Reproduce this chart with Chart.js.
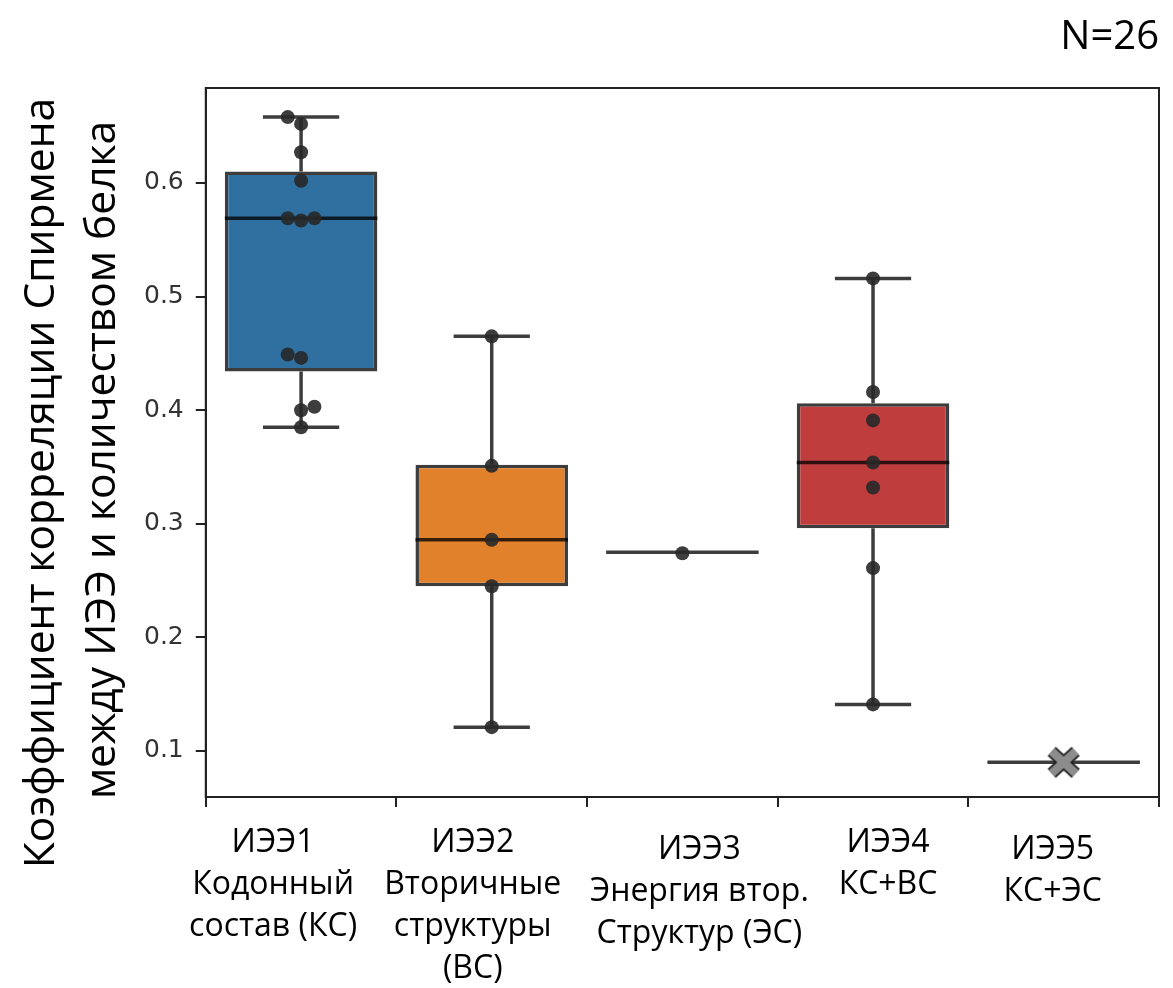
<!DOCTYPE html>
<html lang="ru">
<head>
    <meta charset="UTF-8">
    <title>Коэффициент корреляции Спирмена</title>
    <style>
        body {
            margin: 0;
            padding: 0;
            background-color: #ffffff;
        }

        .chart-container {
            width: 1173px;
            height: 988px;
        }
    </style>
</head>
<body>
    <div class="chart-container">
        <canvas id="boxChart"></canvas>
    </div>

    <script src="https://cdn.jsdelivr.net/npm/chart.js"></script>
    <script>
        // Categories (x axis labels, one line per array item)
        const categories = [
            ['ИЭЭ1', 'Кодонный', 'состав (КС)'],
            ['ИЭЭ2', 'Вторичные', 'структуры', '(ВС)'],
            ['ИЭЭ3', 'Энергия втор.', 'Структур (ЭС)'],
            ['ИЭЭ4', 'КС+ВС'],
            ['ИЭЭ5', 'КС+ЭС']
        ];

        // Box statistics
        const whiskerLow  = [0.385, 0.121, 0.275, 0.141, 0.090];
        const q1          = [0.434, 0.245, 0.275, 0.296, 0.090];
        const median      = [0.569, 0.286, 0.275, 0.354, 0.090];
        const q3          = [0.610, 0.352, 0.275, 0.406, 0.090];
        const whiskerHigh = [0.658, 0.465, 0.275, 0.516, 0.090];

        // Individual values (category index, value, small swarm shift in category units)
        const pointCat   = [0, 0, 0, 0, 0, 0, 0, 0, 0, 0, 0, 0,
                            1, 1, 1, 1, 1,
                            2,
                            3, 3, 3, 3, 3, 3, 3,
                            4];
        const pointValue = [0.658, 0.652, 0.627, 0.602, 0.569, 0.567, 0.569, 0.449, 0.446, 0.403, 0.400, 0.385,
                            0.465, 0.351, 0.286, 0.245, 0.121,
                            0.274,
                            0.516, 0.416, 0.391, 0.354, 0.332, 0.261, 0.141,
                            0.090];
        const pointShift = [-0.07, 0, 0, 0, -0.07, 0, 0.07, -0.07, 0, 0.07, 0, 0,
                            0, 0, 0, 0, 0,
                            0,
                            0, 0, 0, 0, 0, 0, 0,
                            0];

        const yTicks = [0.1, 0.2, 0.3, 0.4, 0.5, 0.6];
        const yTitle = ['Коэффициент корреляции Спирмена', 'между ИЭЭ и количеством белка'];

        const boxColors = ['#3070a1', '#e1812c', '#c03d3e', '#c03d3e', '#8c8c8c'];
        const lineColor = 'rgba(0, 0, 0, 0.76)';

        // the x labels in the original are nudged a bit off their ticks
        const labelShiftX = [-28, -19, 17, 15, -11];
        const labelShiftY = [0, 0, 7, 0, 7];

        // grey X marker used for the last category
        function makeCross() {
            const c = document.createElement('canvas');
            c.width = 40;
            c.height = 36;
            const g = c.getContext('2d');
            g.lineCap = 'butt';
            g.beginPath();
            g.moveTo(8, 7); g.lineTo(32, 29);
            g.moveTo(32, 7); g.lineTo(8, 29);
            g.strokeStyle = '#1a1a1a';
            g.lineWidth = 12;
            g.stroke();
            g.strokeStyle = '#8c8c8c';
            g.lineWidth = 8.5;
            g.stroke();
            return c;
        }
        const crossIcon = makeCross();

        // build whisker / cap / median segments (null breaks the line)
        const segments = [];
        for (let i = 0; i < categories.length; i++) {
            segments.push({x: i, y: whiskerLow[i]}, {x: i, y: q1[i]}, {x: i, y: null});
            segments.push({x: i, y: q3[i]}, {x: i, y: whiskerHigh[i]}, {x: i, y: null});
            segments.push({x: i - 0.2, y: whiskerLow[i]}, {x: i + 0.2, y: whiskerLow[i]}, {x: i, y: null});
            segments.push({x: i - 0.2, y: whiskerHigh[i]}, {x: i + 0.2, y: whiskerHigh[i]}, {x: i, y: null});
            segments.push({x: i - 0.4, y: median[i]}, {x: i + 0.4, y: median[i]}, {x: i, y: null});
        }

        const points = pointValue.map(function(v, k) {
            return {x: pointCat[k] + pointShift[k], y: v};
        });

        // frame around the plot area
        const framePlugin = {
            id: 'frame',
            afterDraw(chart) {
                const a = chart.chartArea;
                const ctx = chart.ctx;
                ctx.save();
                ctx.strokeStyle = '#222';
                ctx.lineWidth = 2;
                ctx.strokeRect(a.left, a.top, a.right - a.left, a.bottom - a.top);
                ctx.restore();
            }
        };

        // category labels under the ticks + the two-line y title
        const labelsPlugin = {
            id: 'labels',
            afterDraw(chart) {
                const a = chart.chartArea;
                const xs = chart.scales.x;
                const ctx = chart.ctx;
                ctx.save();
                ctx.fillStyle = '#000';
                ctx.textAlign = 'center';
                ctx.textBaseline = 'middle';
                ctx.font = '32px "Open Sans"';
                categories.forEach(function(lines, i) {
                    const x = xs.getPixelForValue(i) + labelShiftX[i];
                    lines.forEach(function(line, j) {
                        ctx.fillText(line, x, a.bottom + 46 + labelShiftY[i] + j * 42);
                    });
                });

                ctx.font = '42.5px "Open Sans"';
                const titlePos = [[a.left - 164, a.top + 395], [a.left - 103, a.top + 372]];
                yTitle.forEach(function(line, j) {
                    ctx.save();
                    ctx.translate(titlePos[j][0], titlePos[j][1]);
                    ctx.rotate(-Math.PI / 2);
                    ctx.fillText(line, 0, 0);
                    ctx.restore();
                });
                ctx.restore();
            }
        };

        const ctx = document.getElementById('boxChart').getContext('2d');
        const boxChart = new Chart(ctx, {
            data: {
                labels: categories,
                datasets: [
                    {
                        type: 'scatter',
                        label: 'values',
                        xAxisID: 'xj',
                        data: points,
                        backgroundColor: 'rgba(40, 40, 40, 0.9)',
                        borderWidth: 0,
                        pointRadius: 7,
                        pointStyle: pointCat.map(function(c) { return c === 4 ? crossIcon : 'circle'; }),
                        order: 0
                    },
                    {
                        type: 'line',
                        label: 'whiskers',
                        xAxisID: 'xj',
                        data: segments,
                        borderColor: lineColor,
                        borderWidth: 3.5,
                        pointRadius: 0,
                        spanGaps: false,
                        order: 1
                    },
                    {
                        type: 'bar',
                        label: 'boxes',
                        xAxisID: 'x',
                        data: q1.map(function(v, i) { return v === q3[i] ? null : [v, q3[i]]; }),
                        backgroundColor: boxColors,
                        borderColor: lineColor,
                        borderWidth: 3.5,
                        borderSkipped: false,
                        grouped: false,
                        barPercentage: 0.8,
                        categoryPercentage: 1.0,
                        order: 2
                    }
                ]
            },
            options: {
                responsive: true,
                maintainAspectRatio: false,
                animation: false,
                layout: {
                    padding: {left: 132, right: 14, bottom: 181, top: 0}
                },
                plugins: {
                    legend: {display: false},
                    tooltip: {enabled: false},
                    title: {
                        display: true,
                        text: 'N=26',
                        align: 'end',
                        color: '#000',
                        font: {family: 'Open Sans', size: 40, weight: 'normal', lineHeight: 1.2},
                        padding: {top: 14, bottom: 26}
                    }
                },
                scales: {
                    x: {
                        type: 'category',
                        offset: true,
                        grid: {display: true, drawOnChartArea: false, drawTicks: true, tickLength: 10, color: '#222', lineWidth: 2},
                        border: {display: true, color: '#222', width: 2},
                        ticks: {display: false, autoSkip: false}
                    },
                    xj: {
                        type: 'linear',
                        display: false,
                        min: -0.5,
                        max: 4.5
                    },
                    y: {
                        min: 0.0595,
                        max: 0.6836,
                        afterBuildTicks: function(scale) {
                            scale.ticks = yTicks.map(function(v) { return {value: v}; });
                        },
                        grid: {display: true, drawOnChartArea: false, drawTicks: true, tickLength: 10, color: '#222', lineWidth: 2},
                        border: {display: true, color: '#222', width: 2},
                        ticks: {
                            color: '#333',
                            padding: 12,
                            font: {family: 'DejaVu Sans', size: 25},
                            callback: function(v) { return v.toFixed(1); }
                        }
                    }
                }
            },
            plugins: [framePlugin, labelsPlugin]
        });
    </script>
</body>
</html>
